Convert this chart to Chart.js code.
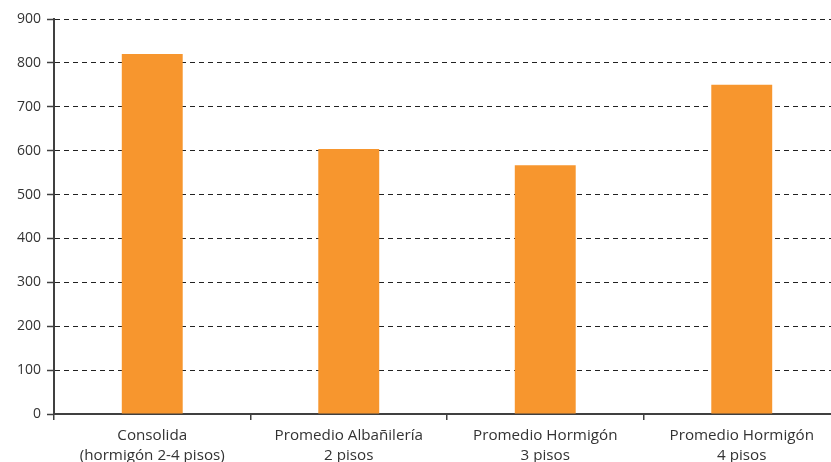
<!DOCTYPE html>
<html lang="es">
<head>
    <meta charset="UTF-8">
    <title>Consolida vs promedios</title>
    <script src="https://cdn.jsdelivr.net/npm/chart.js"></script>
    <style>
        html, body { margin: 0; padding: 0; overflow: hidden; background: #fff; }
        canvas { display: block; }
    </style>
</head>
<body>
    <canvas id="grafico" width="845" height="462"></canvas>
    <script>
        // Categorias (dos lineas cada una)
        const categorias = [
            ['Consolida', '(hormigón 2-4 pisos)'],
            ['Promedio Albañilería', '2 pisos'],
            ['Promedio Hormigón', '3 pisos'],
            ['Promedio Hormigón', '4 pisos']
        ];
        const valores = [820, 604, 567, 750];
        const yMin = 0, yMax = 900, yPaso = 100;

        const naranjo = '#F7962E';
        const colorEje = '#404040';
        const colorTexto = '#333333';

        new Chart(document.getElementById('grafico'), {
            type: 'bar',
            data: {
                labels: categorias,
                datasets: [{
                    data: valores,
                    backgroundColor: naranjo,
                    borderWidth: 0,
                    barPercentage: 0.62,
                    categoryPercentage: 0.5
                }]
            },
            options: {
                responsive: false,
                animation: false,
                layout: { padding: { top: 19, right: 5, left: 0, bottom: 0 } },
                plugins: {
                    legend: { display: false },
                    tooltip: { enabled: false }
                },
                scales: {
                    x: {
                        offset: true,
                        afterFit: s => { s.height = 48; },
                        grid: {
                            offset: true,
                            drawOnChartArea: false,
                            drawTicks: true,
                            tickLength: 6,
                            color: colorEje,
                            lineWidth: 1.5
                        },
                        border: { display: true, color: colorEje, width: 2 },
                        ticks: {
                            color: colorTexto,
                            padding: 6,
                            maxRotation: 0,
                            autoSkip: false,
                            font: { family: 'Open Sans', size: 15.2, lineHeight: 1.3 }
                        }
                    },
                    y: {
                        min: yMin,
                        max: yMax,
                        afterFit: s => { s.width = 54; },
                        grid: {
                            color: '#222222',
                            lineWidth: 1,
                            tickLength: 7,
                            tickColor: colorEje,
                            tickWidth: 1.5,
                            tickBorderDash: []
                        },
                        border: { display: true, color: colorEje, width: 2, dash: [5, 4] },
                        ticks: {
                            stepSize: yPaso,
                            color: colorTexto,
                            padding: 6,
                            font: { family: 'Open Sans', size: 14 }
                        }
                    }
                }
            }
        });
    </script>
</body>
</html>
